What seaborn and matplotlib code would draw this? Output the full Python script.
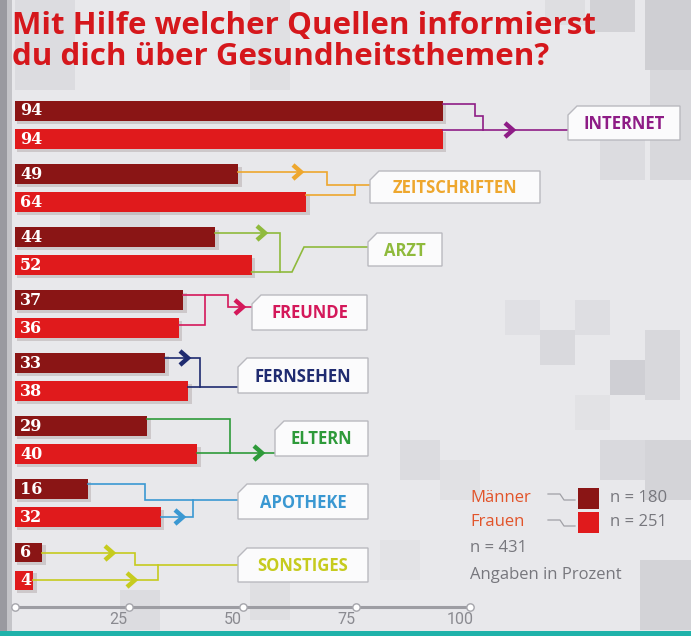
import matplotlib
matplotlib.use("Agg")
import matplotlib.pyplot as plt
import seaborn as sns
import pandas as pd
import numpy as np
from matplotlib.patches import Polygon, Rectangle

# ---------------- data ----------------
categories = ["INTERNET", "ZEITSCHRIFTEN", "ARZT", "FREUNDE", "FERNSEHEN", "ELTERN", "APOTHEKE", "SONSTIGES"]
maenner = [94, 49, 44, 37, 33, 29, 16, 6]
frauen = [94, 64, 52, 36, 38, 40, 32, 4]
cat_colors = ["#8e1c86", "#eea72e", "#8fba3c", "#d4185a", "#1f2b70", "#2e9a3a", "#3a98d2", "#c6cb1e"]
ticks = [0, 25, 50, 75, 100]
tick_labels = ["", "25", "50", "75", "100"]
groups = ["Männer", "Frauen"]
group_n = ["n = 180", "n = 251"]
bar_colors = ["#8a1515", "#e01a1c"]

df = pd.DataFrame({
    "Quelle": categories * 2,
    "Gruppe": [groups[0]] * len(categories) + [groups[1]] * len(categories),
    "Wert": maenner + frauen,
})

# ---------------- layout helpers (pixel -> data) ----------------
W, H = 691, 636
X0, SX = 15.0, 4.55          # px of value 0, px per percent
Y0, SY = 125.0, 63.07        # px of category 0 center, px per category


def X(px):
    return (px - X0) / SX


def Y(py):
    return (py - Y0) / SY


def prect(px, py, pw, ph, **kw):
    """rectangle given in pixel coords (top-left origin)"""
    return Rectangle((X(px), Y(py)), pw / SX, ph / SY, **kw)


fig = plt.figure(figsize=(W / 100, H / 100), dpi=100)
fig.patch.set_facecolor("#e8e8eb")
ax = fig.add_axes([0, 0, 1, 1])
ax.set_facecolor("none")

# background pixel pattern (decoration)
bg_blocks = [
    (590, 0, 45, 32, "#d2d2d6"), (645, 0, 46, 70, "#cfcfd3"), (545, 0, 40, 25, "#dedee1"),
    (650, 70, 41, 110, "#d8d8dc"), (600, 140, 45, 40, "#dcdce0"),
    (505, 300, 35, 35, "#e0e0e4"), (540, 330, 35, 35, "#d9d9dd"), (575, 300, 35, 35, "#dedee2"),
    (610, 360, 35, 35, "#cfcfd4"), (645, 330, 35, 70, "#d8d8dc"), (575, 395, 35, 35, "#e2e2e5"),
    (400, 440, 40, 40, "#dcdce0"), (440, 460, 40, 40, "#e1e1e4"), (600, 440, 45, 40, "#d9d9dd"),
    (645, 440, 46, 60, "#d4d4d8"), (120, 590, 40, 40, "#dcdce0"), (250, 580, 40, 40, "#dfdfe2"),
    (640, 560, 51, 70, "#d3d3d7"), (380, 540, 40, 40, "#e3e3e6"), (15, 0, 60, 90, "#dcdce0"),
    (250, 0, 40, 90, "#e0e0e3"), (100, 200, 60, 30, "#dadade"),
]
for (bx, by, bw, bh, bc) in bg_blocks:
    ax.add_patch(prect(bx, by, bw, bh, facecolor=bc, edgecolor="none", zorder=0))
# left dark strip
ax.add_patch(prect(0, 0, 7, H, facecolor="#9a9aa0", edgecolor="none", zorder=0))
ax.add_patch(prect(7, 0, 5, H, facecolor="#c4c4c8", edgecolor="none", zorder=0))

# bar shadows (decoration derived from data)
for i in range(len(categories)):
    for j, vals in enumerate([maenner, frauen]):
        yc = i + (-0.222 if j == 0 else 0.222)
        ax.add_patch(Rectangle((0.5, yc - 0.158 + 0.045), vals[i] + 0.3, 0.316, facecolor="#8f8080",
                               alpha=0.3, edgecolor="none", zorder=1))

# ---------------- bars via seaborn ----------------
sns.barplot(data=df, y="Quelle", x="Wert", hue="Gruppe", orient="h", ax=ax,
            palette=bar_colors, width=0.888, gap=0.29, legend=False, saturation=1,
            edgecolor="none", zorder=2)

ax.set_xlim(X(0), X(W))
ax.set_ylim(Y(H), Y(0))
ax.axis("off")

# value labels
for i in range(len(categories)):
    for j, vals in enumerate([maenner, frauen]):
        yc = i + (-0.222 if j == 0 else 0.222)
        ax.text(X(20), yc, str(vals[i]), color="white", fontsize=11.5, fontweight="bold",
                family="DejaVu Serif", va="center", ha="left", zorder=4)


# ---------------- connectors & label boxes ----------------
def chevron(xp, yp, color):
    pts = np.array([[xp - 5, yp - 7], [xp + 3, yp], [xp - 5, yp + 7]])
    ax.plot(X(pts[:, 0]), Y(pts[:, 1]), color=color, lw=3.2, solid_joinstyle="miter",
            solid_capstyle="butt", zorder=5)


def path(val, pts, color):
    xs = [val] + [X(p[0]) for p in pts]
    ys = [Y(pts[0][1])] + [Y(p[1]) for p in pts]
    ax.plot(xs, ys, color=color, lw=1.2, zorder=3, solid_joinstyle="miter")


# (men path px, women path px, arrows px, box [x0, x1, y0, y1])
conn = [
    ([(475, 104), (475, 116), (483, 116), (483, 130)], [(568, 130)], [(510, 130)], [568, 680, 106, 140]),
    ([(327, 172), (327, 185), (370, 185)], [(355, 195), (355, 185)], [(298, 172)], [370, 540, 171, 203]),
    ([(280, 233), (280, 272)], [(292, 272), (304, 247), (368, 247)], [(262, 233)], [368, 442, 233, 266]),
    ([(228, 295), (228, 307), (252, 307)], [(205, 325), (205, 295)], [(240, 307)], [252, 367, 295, 330]),
    ([(200, 358), (200, 387), (238, 387)], [(200, 387)], [(185, 358)], [238, 368, 358, 393]),
    ([(230, 419), (230, 453)], [(275, 453)], [(259, 453)], [275, 368, 421, 456]),
    ([(145, 484), (145, 500), (238, 500)], [(193, 517), (193, 500)], [(180, 517)], [238, 368, 484, 519]),
    ([(135, 553), (135, 565), (238, 565)], [(158, 580), (158, 565)], [(110, 553), (132, 580)], [238, 368, 548, 582]),
]

for i, (mp, fp, arrows, box) in enumerate(conn):
    c = cat_colors[i]
    path(maenner[i], mp, c)
    path(frauen[i], fp, c)
    for (axp, ayp) in arrows:
        chevron(axp, ayp, c)
    x0, x1, y0, y1 = box
    ch = 9
    poly = [(x0, y0 + ch), (x0 + ch, y0), (x1, y0), (x1, y1), (x0, y1)]
    ax.add_patch(Polygon([(X(a), Y(b)) for a, b in poly], closed=True, facecolor="#fbfbfc",
                         edgecolor="#b9b9bf", lw=1.0, zorder=4))
    ax.text(X((x0 + x1) / 2), Y((y0 + y1) / 2 + 1), categories[i], color=c, fontsize=12,
            fontweight="bold", family="Open Sans", ha="center", va="center", zorder=5)

# ---------------- x axis ----------------
axis_y = Y(607)
ax.plot([0, 100], [axis_y, axis_y], color="#9d9da3", lw=2.2, zorder=3)
ax.scatter(ticks, [axis_y] * len(ticks), s=28, facecolor="white", edgecolor="#a5a5ab",
           linewidths=1.0, zorder=4)
for t, lab in zip(ticks, tick_labels):
    ax.text(t - 2.2, Y(619), lab, color="#8a8a90", fontsize=11.5, family="Roboto",
            ha="center", va="center", zorder=4)

# ---------------- legend ----------------
leg_rows = [498, 522]
for j in range(2):
    yy = leg_rows[j]
    ax.text(X(470), Y(yy), groups[j], color="#e2542a", fontsize=12, family="Open Sans",
            ha="left", va="center", zorder=5)
    ax.add_patch(prect(578, yy - 10, 21, 21, facecolor=bar_colors[j], edgecolor="none", zorder=5))
    ax.text(X(610), Y(yy), group_n[j], color="#77777d", fontsize=12, family="Open Sans",
            ha="left", va="center", zorder=5)
ax.plot([X(548), X(560), X(564), X(575)], [Y(494), Y(494), Y(500), Y(500)], color="#a0a0a6", lw=0.9, zorder=4)
ax.plot([X(548), X(560), X(564), X(575)], [Y(520), Y(520), Y(526), Y(526)], color="#a0a0a6", lw=0.9, zorder=4)
ax.text(X(470), Y(548), "n = 431", color="#77777d", fontsize=12, family="Open Sans",
        ha="left", va="center", zorder=5)
ax.text(X(470), Y(575), "Angaben in Prozent", color="#77777d", fontsize=12, family="Open Sans",
        ha="left", va="center", zorder=5)

# ---------------- title ----------------
ax.text(X(12), Y(11), "Mit Hilfe welcher Quellen informierst\ndu dich über Gesundheitsthemen?",
        color="#d5171c", fontsize=22.5, fontweight="bold", family="Open Sans", ha="left", va="top",
        linespacing=1.05, zorder=5)

# bottom teal rule
ax.add_patch(prect(0, 631, W, 5, facecolor="#1fb2aa", edgecolor="none", zorder=6))

fig.savefig("out.png", dpi=100, facecolor=fig.get_facecolor())
